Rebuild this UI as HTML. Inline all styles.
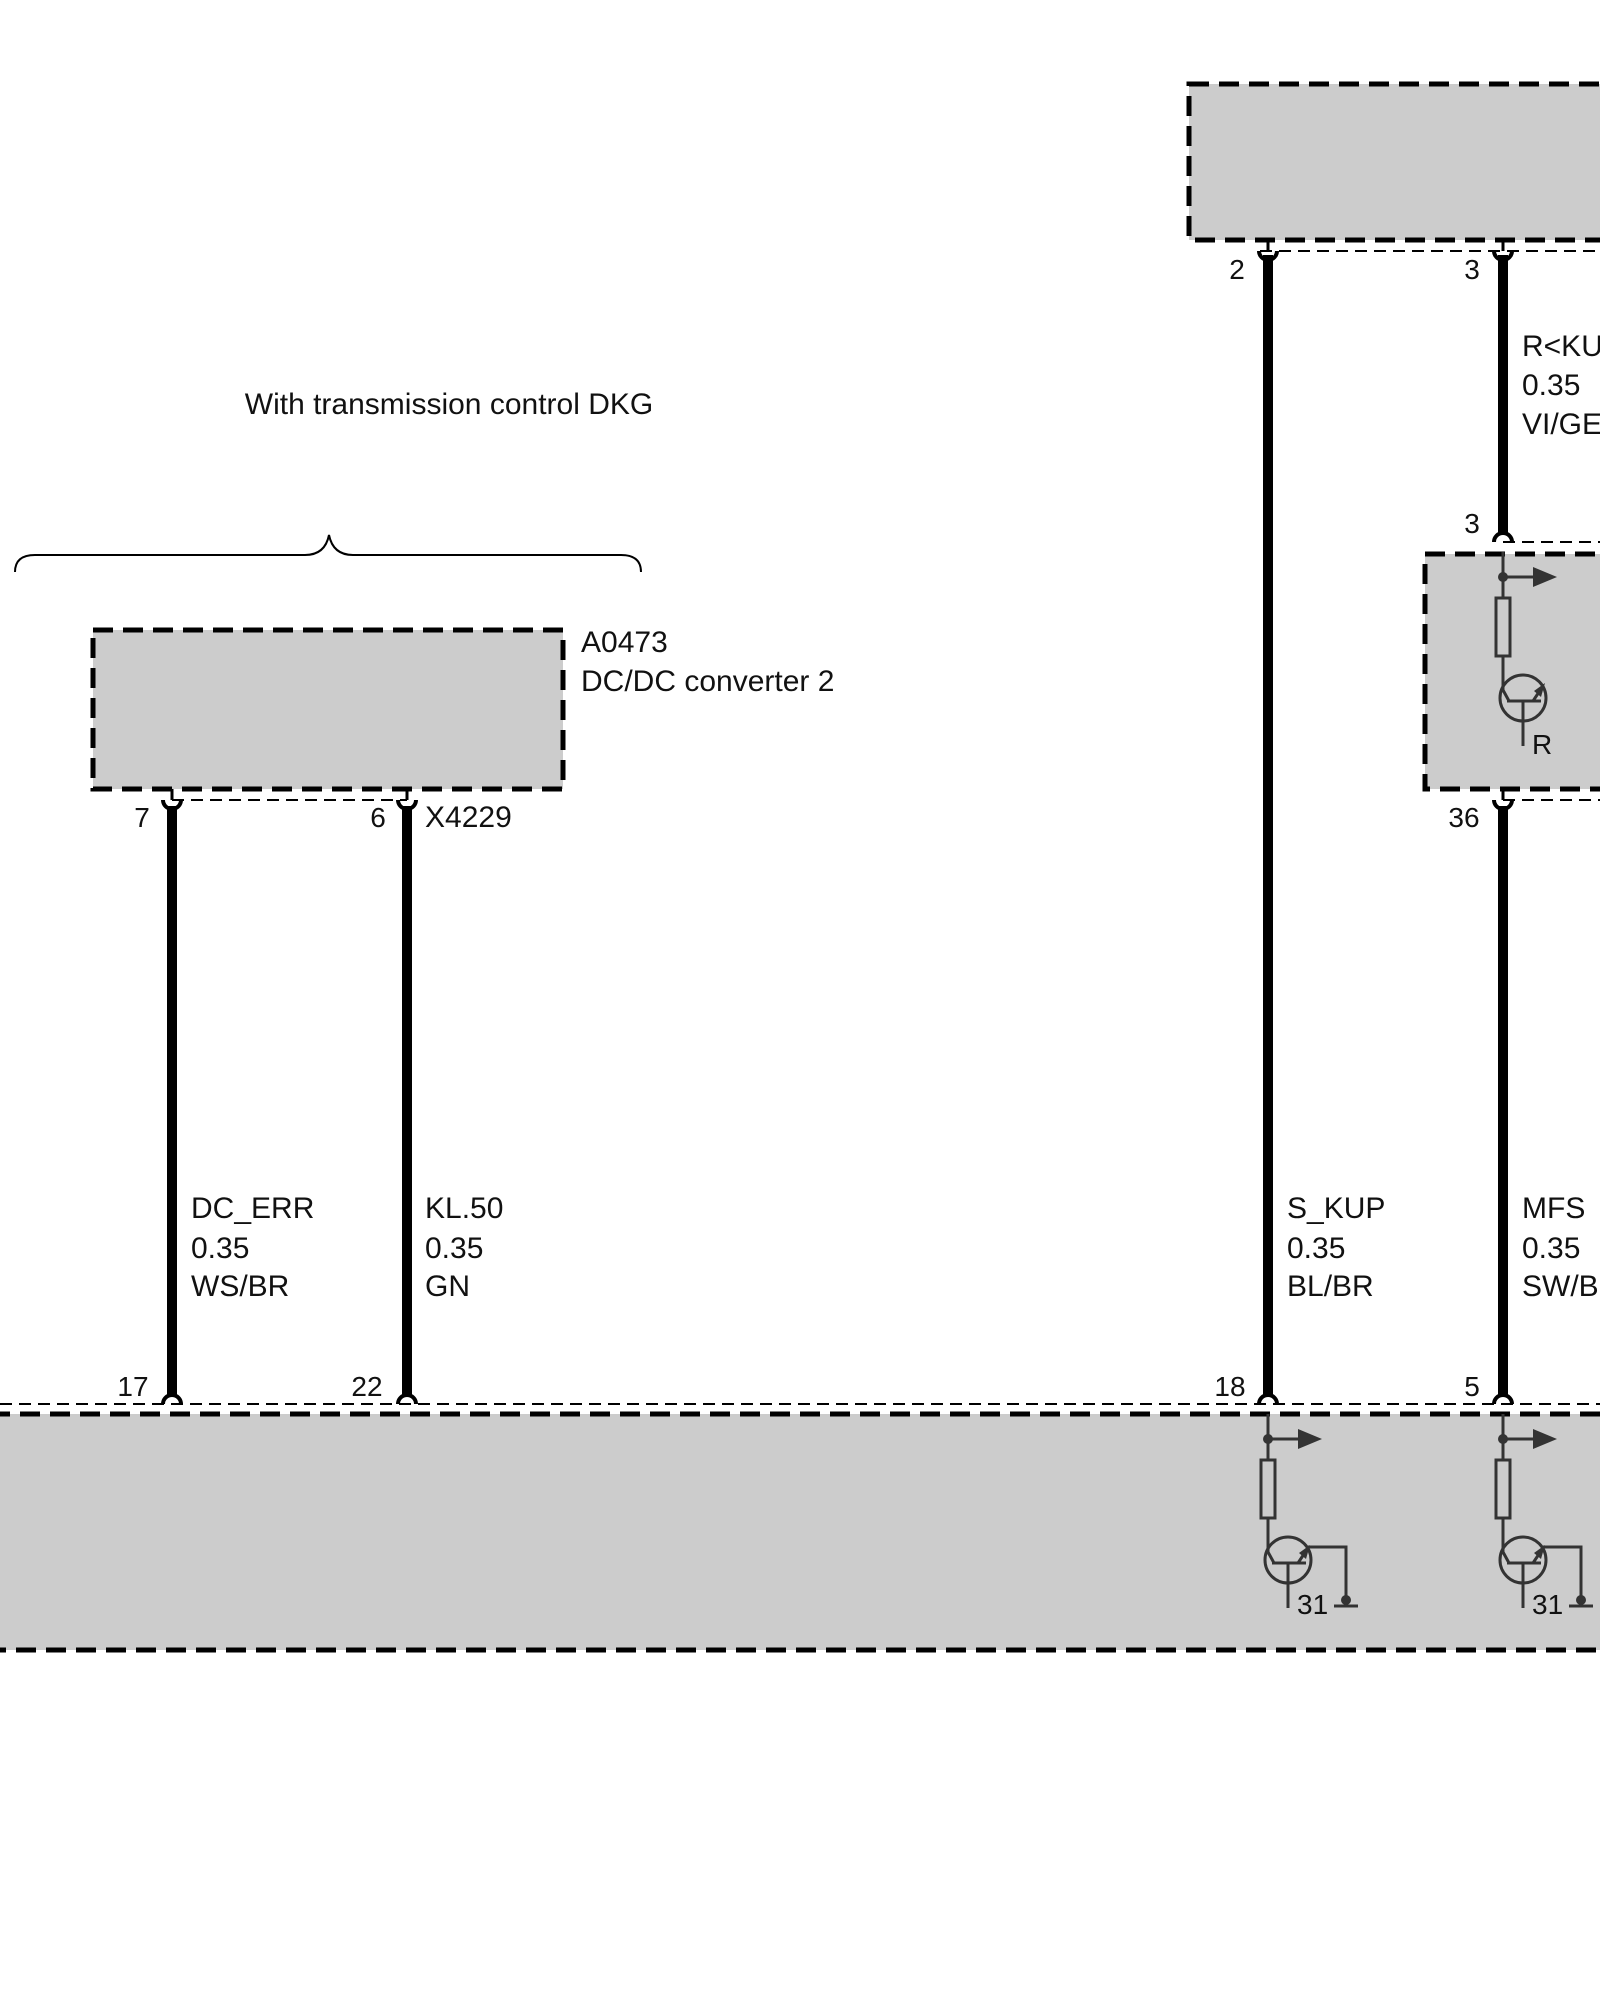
<!DOCTYPE html>
<html><head><meta charset="utf-8"><style>html,body{margin:0;padding:0;background:#fff}svg{display:block}text{font-family:"Liberation Sans",Arial,sans-serif;fill:#111}</style></head><body>
<svg width="1600" height="2000" viewBox="0 0 1600 2000" xmlns="http://www.w3.org/2000/svg">
<defs>
<g id="ckt">
  <line x1="0" y1="0" x2="0" y2="46" stroke="#333" stroke-width="3"/>
  <circle cx="0" cy="25" r="5" fill="#333"/>
  <line x1="0" y1="25" x2="32" y2="25" stroke="#333" stroke-width="3"/>
  <polygon points="30,15 54,25 30,35" fill="#333"/>
  <rect x="-7" y="46" width="14" height="58" fill="none" stroke="#333" stroke-width="3"/>
  <line x1="0" y1="104" x2="0" y2="138" stroke="#333" stroke-width="3"/>
  <line x1="0" y1="138" x2="6" y2="149" stroke="#333" stroke-width="3"/>
  <circle cx="20" cy="146" r="23" fill="none" stroke="#333" stroke-width="3"/>
  <line x1="4" y1="149" x2="38" y2="149" stroke="#333" stroke-width="3"/>
  <line x1="20" y1="149" x2="20" y2="194" stroke="#333" stroke-width="3"/>
  <line x1="30" y1="149" x2="40" y2="134" stroke="#333" stroke-width="3"/>
  <polygon points="42,131 38,145 31,139" fill="#333"/>
</g>
<g id="gnd">
  <polyline points="40,133 78,133 78,185" fill="none" stroke="#333" stroke-width="3"/>
  <circle cx="78" cy="186" r="5" fill="#333"/>
  <line x1="66" y1="192" x2="90" y2="192" stroke="#333" stroke-width="3"/>
</g>
</defs>

<rect x="1189" y="84" width="430" height="156" fill="#cccccc" stroke="#000" stroke-width="5" stroke-dasharray="20 10"/>
<line x1="1260" y1="251" x2="1600" y2="251" stroke="#000" stroke-width="2" stroke-dasharray="12 7"/>

<rect x="1425" y="554" width="200" height="235" fill="#cccccc" stroke="#000" stroke-width="5" stroke-dasharray="20 10"/>
<line x1="1503" y1="542" x2="1600" y2="542" stroke="#000" stroke-width="2" stroke-dasharray="12 7"/>
<line x1="1503" y1="800" x2="1600" y2="800" stroke="#000" stroke-width="2" stroke-dasharray="12 7"/>

<rect x="93" y="630" width="470" height="159" fill="#cccccc" stroke="#000" stroke-width="5" stroke-dasharray="20 10"/>
<line x1="172" y1="800" x2="407" y2="800" stroke="#000" stroke-width="2" stroke-dasharray="12 7"/>

<rect x="-10" y="1414" width="1630" height="236" fill="#cccccc" stroke="#000" stroke-width="5" stroke-dasharray="20 10"/>
<line x1="0" y1="1404" x2="1600" y2="1404" stroke="#000" stroke-width="2" stroke-dasharray="12 7"/>

<g stroke="#000" stroke-width="10">
<line x1="1268" y1="255" x2="1268" y2="1397"/>
<line x1="1503" y1="255" x2="1503" y2="534"/>
<line x1="1503" y1="806" x2="1503" y2="1397"/>
<line x1="172" y1="806" x2="172" y2="1397"/>
<line x1="407" y1="806" x2="407" y2="1397"/>
</g>
<g fill="none" stroke="#000" stroke-width="4">
<path d="M1259,251 A9,9 0 0 0 1277,251"/>
<path d="M1494,251 A9,9 0 0 0 1512,251"/>
<path d="M1494,800 A9,9 0 0 0 1512,800"/>
<path d="M163,800 A9,9 0 0 0 181,800"/>
<path d="M398,800 A9,9 0 0 0 416,800"/>
<path d="M1494,542 A9,9 0 0 1 1512,542"/>
<path d="M163,1404 A9,9 0 0 1 181,1404"/>
<path d="M398,1404 A9,9 0 0 1 416,1404"/>
<path d="M1259,1404 A9,9 0 0 1 1277,1404"/>
<path d="M1494,1404 A9,9 0 0 1 1512,1404"/>
</g>
<g stroke="#000" stroke-width="3">
<line x1="1268" y1="240" x2="1268" y2="251"/><line x1="1503" y1="240" x2="1503" y2="251"/>
<line x1="1503" y1="789" x2="1503" y2="800"/><line x1="172" y1="789" x2="172" y2="800"/><line x1="407" y1="789" x2="407" y2="800"/>
</g>

<g transform="translate(1268,1414)"><use href="#ckt"/><use href="#gnd"/></g>
<g transform="translate(1503,1414)"><use href="#ckt"/><use href="#gnd"/></g>
<g transform="translate(1503,552)"><use href="#ckt"/></g>

<path d="M15,572 Q15,555 35,555 L305,555 Q325,555 329,535 Q333,555 353,555 L621,555 Q641,555 641,572" fill="none" stroke="#000" stroke-width="2"/>

<g font-size="30">
<text x="449" y="414" text-anchor="middle">With transmission control DKG</text>
<text x="581" y="652">A0473</text>
<text x="581" y="691">DC/DC converter 2</text>
<text x="425" y="827">X4229</text>
<text x="191" y="1218">DC_ERR</text><text x="191" y="1258">0.35</text><text x="191" y="1296">WS/BR</text>
<text x="425" y="1218">KL.50</text><text x="425" y="1258">0.35</text><text x="425" y="1296">GN</text>
<text x="1287" y="1218">S_KUP</text><text x="1287" y="1258">0.35</text><text x="1287" y="1296">BL/BR</text>
<text x="1522" y="1218">MFS</text><text x="1522" y="1258">0.35</text><text x="1522" y="1296">SW/BL</text>
<text x="1522" y="356">R&lt;KUP</text><text x="1522" y="395">0.35</text><text x="1522" y="434">VI/GE</text>
</g>
<g font-size="28">
<text x="1237" y="279" text-anchor="middle">2</text>
<text x="1472" y="279" text-anchor="middle">3</text>
<text x="1472" y="533" text-anchor="middle">3</text>
<text x="1464" y="827" text-anchor="middle">36</text>
<text x="142" y="827" text-anchor="middle">7</text>
<text x="378" y="827" text-anchor="middle">6</text>
<text x="133" y="1396" text-anchor="middle">17</text>
<text x="367" y="1396" text-anchor="middle">22</text>
<text x="1230" y="1396" text-anchor="middle">18</text>
<text x="1472" y="1396" text-anchor="middle">5</text>
<text x="1297" y="1614">31</text>
<text x="1532" y="1614">31</text>
<text x="1532" y="754">R</text>
</g>
</svg>
</body></html>
